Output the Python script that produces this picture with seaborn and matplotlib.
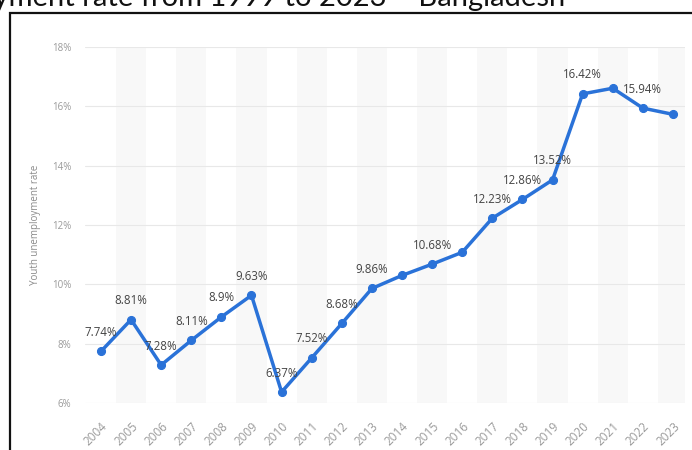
import pandas as pd
import matplotlib.pyplot as plt
import matplotlib.patches as mpatches
import seaborn as sns

# Datele: rata somajului in randul tinerilor, Bangladesh
ani = ["2004", "2005", "2006", "2007", "2008", "2009", "2010", "2011", "2012", "2013",
       "2014", "2015", "2016", "2017", "2018", "2019", "2020", "2021", "2022", "2023"]
rata = [7.74, 8.81, 7.28, 8.11, 8.9, 9.63, 6.37, 7.52, 8.68, 9.86,
        10.30, 10.68, 11.08, 12.23, 12.86, 13.52, 16.42, 16.61, 15.94, 15.73]
etichete = ["7.74%", "8.81%", "7.28%", "8.11%", "8.9%", "9.63%", "6.37%", "7.52%", "8.68%", "9.86%",
            "", "10.68%", "", "12.23%", "12.86%", "13.52%", "16.42%", "", "15.94%", ""]
y_ticks = [6, 8, 10, 12, 14, 16, 18]

df = pd.DataFrame({"An": ani, "Rata": rata, "Eticheta": etichete})
df["poz"] = range(len(df))

sns.set_style("white")
plt.rcParams["font.family"] = ["Open Sans", "DejaVu Sans"]

fig = plt.figure(figsize=(6.92, 4.5), dpi=100)
ax = fig.add_axes([85 / 692, 1 - 403 / 450, 600 / 692, 356 / 450])

# benzi gri alternante
for i in range(1, len(ani), 2):
    ax.axvspan(i - 0.5, i + 0.5, color="#f8f8f8", zorder=0, lw=0)

for t in y_ticks:
    ax.axhline(t, color="#e8e8e8", lw=0.8, zorder=1)

sns.lineplot(data=df, x="poz", y="Rata", ax=ax, color="#2a72d8", lw=2.5,
             marker="o", markersize=5.8, markeredgecolor="#2a72d8", zorder=3)

for _, r in df.iterrows():
    if r["Eticheta"]:
        ax.annotate(r["Eticheta"], (r["poz"], r["Rata"]), xytext=(0, 9),
                    textcoords="offset points", ha="center", va="bottom",
                    fontsize=8.3, color="#444444", zorder=4)

ax.set_xlim(-0.53, 19.4)
ax.set_ylim(6, 18)
ax.set_yticks(y_ticks)
ax.set_yticklabels([f"{t}%" for t in y_ticks], fontsize=7, color="#9a9a9a")
ax.set_xticks(df["poz"])
ax.set_xticklabels(ani, fontsize=8.5, color="#9a9a9a", rotation=45,
                   ha="right", va="top", rotation_mode="anchor")
ax.tick_params(axis="x", pad=12, length=0)
ax.tick_params(axis="y", pad=10, length=0)
ax.set_xlabel("")
ax.set_ylabel("Youth unemployment rate", fontsize=7, color="#8a8a8a", labelpad=8)
for s in ax.spines.values():
    s.set_visible(False)

# chenarul negru si titlul taiat
fig.patches.append(mpatches.Rectangle((10 / 692, -0.1), 1.0, 1 - 13 / 450 + 0.1,
                                      transform=fig.transFigure, fill=False,
                                      edgecolor="#111111", lw=1.6))
fig.text(565 / 692, 1 - 6 / 450, "Youth unemployment rate from 1999 to 2023 – Bangladesh",
         ha="right", va="baseline", fontsize=21, color="#111111",
         family=["Lato", "DejaVu Sans"])

fig.savefig("out.png", dpi=100)
